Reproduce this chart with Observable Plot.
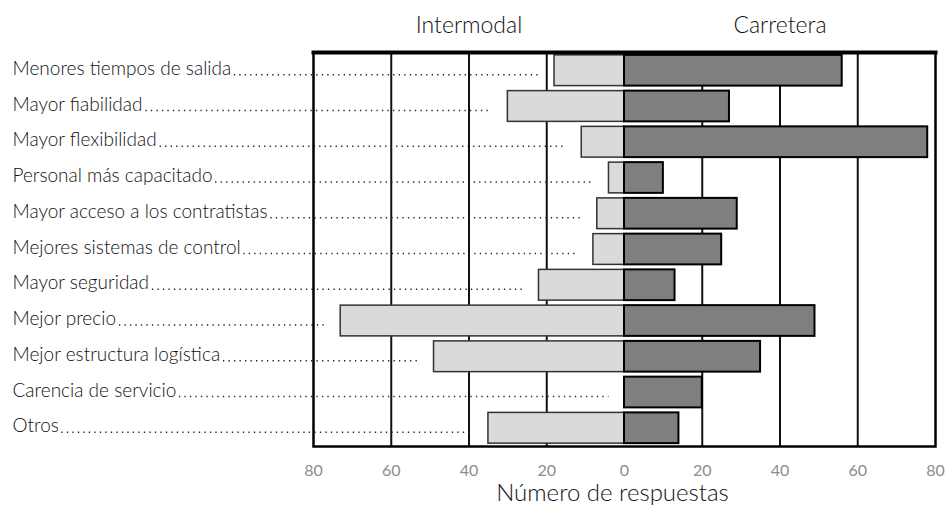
<!DOCTYPE html>
<html>
<head>
<meta charset="utf-8">
<script src="https://cdn.jsdelivr.net/npm/d3@7"></script>
<script src="https://cdn.jsdelivr.net/npm/@observablehq/plot@0.6"></script>
<style>
  html, body { margin: 0; padding: 0; background: #fff; }
  #chart { width: 950px; height: 506px; }
</style>
</head>
<body>
<div id="chart"></div>
<script>
// ---- Data ----
const categories = [
  "Menores tiempos de salida",
  "Mayor fiabilidad",
  "Mayor flexibilidad",
  "Personal más capacitado",
  "Mayor acceso a los contratistas",
  "Mejores sistemas de control",
  "Mayor seguridad",
  "Mejor precio",
  "Mejor estructura logística",
  "Carencia de servicio",
  "Otros"
];
const intermodal = [18, 30, 11, 4, 7, 8, 22, 73, 49, 0, 35];
const carretera  = [56, 27, 78, 10, 29, 25, 13, 49, 35, 20, 14];
const xTicks = [-80, -60, -40, -20, 0, 20, 40, 60, 80];
const gridValues = [-60, -40, -20, 20, 40, 60];
const seriesNames = ["Intermodal", "Carretera"];
const seriesCenters = [-40, 40];
const axisTitle = "Número de respuestas";

// ---- Layout / style ----
const W = 950, H = 506;
const FONT = 'Lato, "DejaVu Sans", sans-serif';
const WEIGHT = 300;
const margins = {marginLeft: 313, marginRight: 15, marginTop: 52, marginBottom: 60};
const xOpts = {domain: [-80, 80]};
const yOpts = {domain: categories, paddingInner: 0.14, paddingOuter: 0.08, round: false};

const rows = categories.map((c, i) => ({cat: c, inter: intermodal[i], carr: carretera[i]}));

// probe plot to obtain the x scale (for leader placement in the margin)
const probe = Plot.plot({width: W, height: H, ...margins, x: xOpts, y: yOpts, marks: [Plot.frame()]});
const sx = probe.scale("x");
const xs = d3.scaleLinear(sx.domain, sx.range);

const ctx = document.createElement("canvas").getContext("2d");
function measure(txt, size) { ctx.font = `${WEIGHT} ${size}px ${FONT}`; return ctx.measureText(txt).width; }
const LABEL_SIZE = Math.min(19, Math.max(14, 16 * 236 / measure(categories[0], 16)));
const labelLeft = 12;
rows.forEach(r => {
  const w = measure(r.cat, LABEL_SIZE);
  r.leadStart = xs.invert(labelLeft + w + 3);
  r.leadEnd = -r.inter - 4;
});
const TITLE_SIZE = Math.min(23, Math.max(17, 20 * 117 / measure(seriesNames[0], 20)));
const AXIS_SIZE = Math.min(24, Math.max(17, 20 * 247 / measure(axisTitle, 20)));

const plot = Plot.plot({
  width: W, height: H, ...margins,
  style: {fontFamily: FONT, background: "#fff"},
  x: {...xOpts, axis: null},
  y: {...yOpts, axis: null},
  marks: [
    Plot.ruleX(gridValues, {stroke: "#111", strokeWidth: 2}),
    Plot.ruleY(rows, {y: "cat", x1: "leadStart", x2: "leadEnd", stroke: "#222", strokeWidth: 1.3,
      strokeDasharray: "1.3,4.2", dy: 4}),
    Plot.barX(rows, {y: "cat", x1: d => -d.inter, x2: 0, fill: "#dadada", stroke: "#333", strokeWidth: 1.5}),
    Plot.barX(rows, {y: "cat", x1: 0, x2: "carr", fill: "#7f7f7f", stroke: "#000", strokeWidth: 2}),
    Plot.frame({stroke: "#000", strokeWidth: 2.5}),
    Plot.frame({anchor: "top", stroke: "#000", strokeWidth: 4}),
    Plot.text(rows, {y: "cat", x: () => xs.invert(labelLeft), text: "cat", textAnchor: "start", dy: -2,
      fontSize: LABEL_SIZE, fontWeight: WEIGHT, fill: "#111"}),
    Plot.text(xTicks, {x: d => d, text: d => String(Math.abs(d)), frameAnchor: "bottom", lineAnchor: "middle",
      dy: 24, fill: "#8c8c8c", fontSize: 16}),
    Plot.text([axisTitle], {x: () => 0, text: d => d, frameAnchor: "bottom", lineAnchor: "middle", dy: 47, dx: -12,
      fontSize: AXIS_SIZE, fontWeight: WEIGHT, fill: "#111"}),
    Plot.text(seriesNames, {x: (d, i) => seriesCenters[i], text: d => d, frameAnchor: "top", lineAnchor: "middle",
      dy: -27, fontSize: TITLE_SIZE, fontWeight: WEIGHT, fill: "#111"})
  ]
});
document.getElementById("chart").appendChild(plot);
</script>
</body>
</html>
